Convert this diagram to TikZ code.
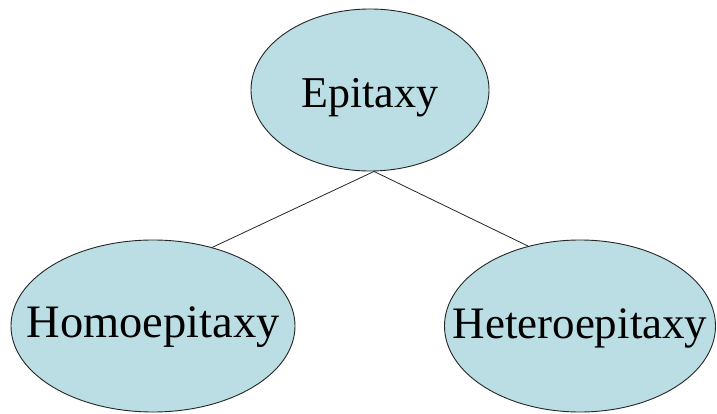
\documentclass[tikz,border=0pt]{standalone}
\usepackage{fontspec}
\setmainfont{Liberation Serif}
\usetikzlibrary{shapes.geometric}
\definecolor{bubble}{RGB}{186,222,227}
\begin{document}
\begin{tikzpicture}[x=1pt,y=-1pt,
  bubble/.style={ellipse,draw=black!85,line width=0.9pt,fill=bubble,inner sep=0pt,
    font=\fontsize{45}{50}\selectfont},
  link/.style={draw=black!85,line width=0.8pt}]
\useasboundingbox[fill=white] (0,0) rectangle (717,414);
\node[bubble,minimum width=238pt,minimum height=162pt,text height=36pt,text depth=0pt,
  font=\fontsize{44}{50}\selectfont] (top) at (370,90) {\makebox[0pt]{Epitaxy}};
\node[bubble,minimum width=284pt,minimum height=172pt,text height=22pt,text depth=0pt,
  font=\fontsize{46.5}{50}\selectfont] (left) at (153,326) {\makebox[0pt]{Homoepitaxy}};
\node[bubble,minimum width=271pt,minimum height=172pt,text height=24pt,text depth=0pt] (right) at (580,326) {\makebox[0pt]{Heteroepitaxy}};
\draw[link] ([xshift=4pt]top.south) -- (left.53);
\draw[link] ([xshift=4pt]top.south) -- (right.123);
\end{tikzpicture}
\end{document}
